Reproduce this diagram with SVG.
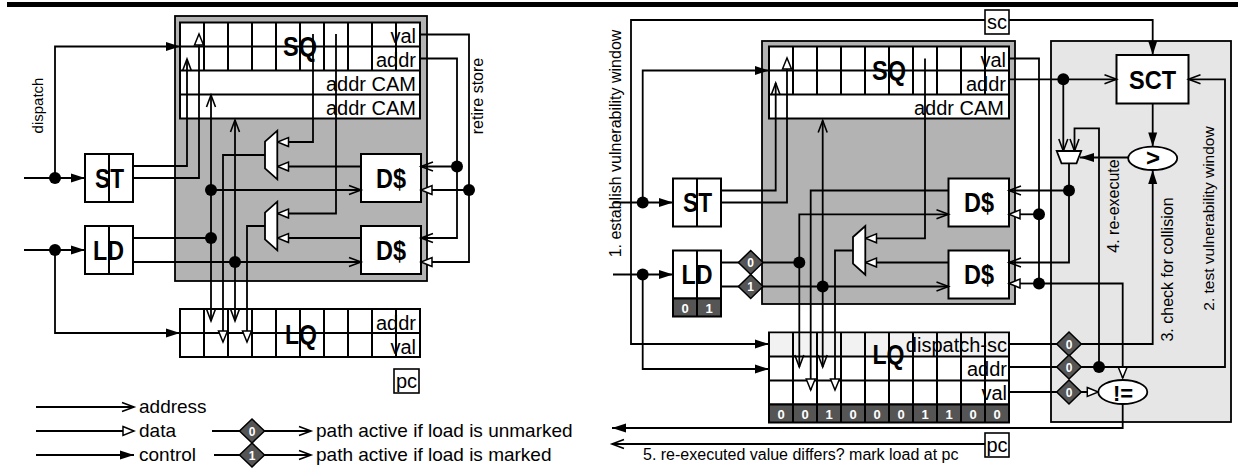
<svg xmlns="http://www.w3.org/2000/svg" width="1244" height="469" viewBox="0 0 1244 469">
<defs>
<style>
.w{fill:none;stroke:#000;stroke-width:1.8}
.a{marker-end:url(#ma)}
.d{marker-end:url(#md)}
.c{marker-end:url(#mc)}
.box{fill:#fff;stroke:#000;stroke-width:2}
.ln{fill:none;stroke:#000;stroke-width:2}
.g{fill:#b3b3b3;stroke:#000;stroke-width:1.8}
.lg{fill:#e6e6e6;stroke:#000;stroke-width:1.8}
.dot{fill:#000}
.dm{fill:#555;stroke:#000;stroke-width:1.5}
.dk{fill:#555;stroke:#000;stroke-width:2}
text{font-family:"Liberation Sans",Arial,Helvetica,sans-serif;fill:#000}
.t{font-size:20px}
.r{font-size:20px;text-anchor:end}
.m{font-size:20px;text-anchor:middle}
.v{font-size:16px;text-anchor:middle}
.b{font-size:27px;font-weight:bold;text-anchor:middle}
.bt{font-size:12px;font-weight:bold;fill:#fff;text-anchor:middle}
.bb{font-size:13px;font-weight:bold;fill:#fff;text-anchor:middle}
</style>
<marker id="ma" markerUnits="userSpaceOnUse" viewBox="-14 -7 16 14" refX="0" refY="0" markerWidth="16" markerHeight="14" orient="auto" overflow="visible"><path d="M-12,-4.5 L0,0 L-12,4.5" fill="none" stroke="#000" stroke-width="1.6"/></marker>
<marker id="md" markerUnits="userSpaceOnUse" viewBox="-14 -7 16 14" refX="0" refY="0" markerWidth="16" markerHeight="14" orient="auto" overflow="visible"><path d="M-11,-4.5 L0,0 L-11,4.5 Z" fill="#fff" stroke="#000" stroke-width="1.5"/></marker>
<marker id="mc" markerUnits="userSpaceOnUse" viewBox="-16 -7 18 14" refX="0" refY="0" markerWidth="18" markerHeight="14" orient="auto" overflow="visible"><path d="M-14,-4.5 L0,0 L-14,4.5 Z" fill="#000"/></marker>
</defs>

<rect x="7" y="2" width="1231" height="5" fill="#000"/>

<!-- ================= LEFT ================= -->
<g id="sq-unit-left"><rect x="175" y="16" width="252" height="265" class="g"/></g>

<g id="sq-left">
<rect x="180" y="22.5" width="240" height="96" class="box"/>
<path class="ln" d="M180 46.5H420M180 70.5H420M180 94.5H420"/>
<path class="ln" d="M204 22.5V70.5M228 22.5V70.5M252 22.5V70.5M276 22.5V70.5M300 22.5V70.5M324 22.5V70.5M348 22.5V70.5M372 22.5V70.5M396 22.5V70.5"/>
<text class="r" x="416" y="43">val</text>
<text class="r" x="416" y="67">addr</text>
<text class="r" x="416" y="91">addr CAM</text>
<text class="r" x="416" y="115">addr CAM</text>
<text class="b" x="300" y="55.5" textLength="34" lengthAdjust="spacingAndGlyphs">SQ</text>
</g>

<g id="st-left"><rect x="85" y="154" width="48" height="48" class="box"/><path class="ln" d="M109 154V202"/><text class="b" x="109.5" y="188" textLength="29" lengthAdjust="spacingAndGlyphs">ST</text></g>
<g id="ld-left"><rect x="85" y="226" width="48" height="48" class="box"/><path class="ln" d="M109 226V274"/><text class="b" x="108.5" y="260" textLength="31" lengthAdjust="spacingAndGlyphs">LD</text></g>
<g id="dcache1-left"><rect x="361" y="154" width="60" height="48" class="box"/><text class="b" x="391" y="188" textLength="30" lengthAdjust="spacingAndGlyphs">D$</text></g>
<g id="dcache2-left"><rect x="361" y="226" width="60" height="48" class="box"/><text class="b" x="391" y="260" textLength="30" lengthAdjust="spacingAndGlyphs">D$</text></g>

<g id="lq-left">
<rect x="180" y="309" width="240" height="48" class="box"/>
<path class="ln" d="M180 333H420"/>
<path class="ln" d="M204 309V357M228 309V357M252 309V357M276 309V357M300 309V357M324 309V357M348 309V357M372 309V357M396 309V357"/>
<text class="r" x="416" y="330">addr</text>
<text class="r" x="416" y="354">val</text>
<text class="b" x="301" y="343.5" textLength="32" lengthAdjust="spacingAndGlyphs">LQ</text>
</g>
<g id="pc-left"><rect x="394" y="369" width="25" height="24" class="box" style="stroke-width:1.6"/><text class="m" x="406.5" y="387.5">pc</text></g>

<!-- ================= RIGHT ================= -->
<g id="sct-region"><rect x="1051" y="41" width="180" height="381" class="lg"/></g>
<g id="sq-unit-right"><rect x="762" y="41" width="253" height="263" class="g"/></g>

<g id="sq-right">
<rect x="769" y="46.5" width="240" height="72" class="box"/>
<path class="ln" d="M769 70.5H1009M769 94.5H1009"/>
<path class="ln" d="M793 46.5V94.5M817 46.5V94.5M841 46.5V94.5M865 46.5V94.5M889 46.5V94.5M913 46.5V94.5M937 46.5V94.5M961 46.5V94.5M985 46.5V94.5"/>
<text class="r" x="1006" y="67">val</text>
<text class="r" x="1006" y="91">addr</text>
<text class="r" x="1004" y="115">addr CAM</text>
<text class="b" x="889" y="79.5" textLength="34" lengthAdjust="spacingAndGlyphs">SQ</text>
</g>

<g id="sc-box"><rect x="985" y="10" width="24" height="24" class="box" style="stroke-width:1.6"/><text class="m" x="997" y="28.5">sc</text></g>
<g id="st-right"><rect x="673" y="178.5" width="48" height="48" class="box"/><path class="ln" d="M697 178.5V226.5"/><text class="b" x="697.5" y="212" textLength="29" lengthAdjust="spacingAndGlyphs">ST</text></g>
<g id="ld-right"><rect x="673" y="250.5" width="48" height="48" class="box"/><rect x="673" y="298.5" width="48" height="18" class="dk"/><path class="ln" d="M697 250.5V316.5"/><text class="b" x="697" y="284" textLength="31" lengthAdjust="spacingAndGlyphs">LD</text><text class="bb" x="685" y="312.5">0</text><text class="bb" x="709" y="312.5">1</text></g>
<g id="dcache1-right"><rect x="948.5" y="178.5" width="60.5" height="48" class="box"/><text class="b" x="979" y="212" textLength="30" lengthAdjust="spacingAndGlyphs">D$</text></g>
<g id="dcache2-right"><rect x="948.5" y="250.5" width="60.5" height="48" class="box"/><text class="b" x="979" y="284" textLength="30" lengthAdjust="spacingAndGlyphs">D$</text></g>
<g id="sct"><rect x="1116.5" y="55" width="72" height="48.5" class="box"/><text class="b" x="1152.5" y="88.5" style="font-size:25px" textLength="47" lengthAdjust="spacingAndGlyphs">SCT</text></g>

<g id="lq-right">
<rect x="769" y="332.5" width="240" height="72" class="box"/>
<rect x="770" y="333.5" width="238" height="23" fill="#f2f2f2"/>
<rect x="769" y="404.5" width="240" height="18" class="dk"/>
<path class="ln" d="M769 356.5H1009M769 380.5H1009"/>
<path class="ln" d="M793 332.5V422.5M817 332.5V422.5M841 332.5V422.5M865 332.5V422.5M889 332.5V422.5M913 332.5V422.5M937 332.5V422.5M961 332.5V422.5M985 332.5V422.5"/>
<text class="r" x="1007" y="351.5">dispatch-sc</text>
<text class="r" x="1007" y="375.5">addr</text>
<text class="r" x="1007" y="399.5">val</text>
<text class="b" x="888.5" y="363.5" textLength="32" lengthAdjust="spacingAndGlyphs">LQ</text>
<text class="bb" x="781" y="418.5">0</text><text class="bb" x="805" y="418.5">0</text><text class="bb" x="829" y="418.5">1</text><text class="bb" x="853" y="418.5">0</text><text class="bb" x="877" y="418.5">0</text><text class="bb" x="901" y="418.5">0</text><text class="bb" x="925" y="418.5">1</text><text class="bb" x="949" y="418.5">1</text><text class="bb" x="973" y="418.5">0</text><text class="bb" x="997" y="418.5">0</text>
</g>
<g id="pc-right"><rect x="985" y="433" width="24" height="24" class="box" style="stroke-width:1.6"/><text class="m" x="997" y="451.5">pc</text></g>

<!-- ================= CONNECTORS ================= -->
<g id="connectors">
<!-- left -->
<path class="w c" d="M24 178H85"/>
<path class="w c" d="M55 178V46.5H180"/>
<path class="w c" d="M24 250H85"/>
<path class="w c" d="M55 250V333H180"/>
<path class="w a" d="M133 166H187V59"/>
<path class="w d" d="M133 178H199V34"/>
<path class="w" d="M133 238H211"/>
<path class="w a" d="M211 238V95"/>
<path class="w a" d="M211 238V321"/>
<path class="w a" d="M211 190H361"/>
<path class="w a" d="M133 262H361"/>
<path class="w a" d="M235 262V120"/>
<path class="w a" d="M235 262V321"/>
<path class="w d" d="M265 155H223V342"/>
<path class="w d" d="M265 226H247V342"/>
<path class="w d" d="M313 34V142H277.5"/>
<path class="w d" d="M336 34V213.5H277.5"/>
<path class="w d" d="M361 166.5H277.5"/>
<path class="w d" d="M361 238H277.5"/>
<path class="w a" d="M421 58.5H457V238H421"/>
<path class="w a" d="M457 166.5H421"/>
<path class="w d" d="M421 34.5H469V262H421"/>
<path class="w d" d="M469 190H421"/>
<circle class="dot" cx="55" cy="178" r="6"/>
<circle class="dot" cx="55" cy="250" r="6"/>
<circle class="dot" cx="211" cy="190" r="6"/>
<circle class="dot" cx="211" cy="238" r="6"/>
<circle class="dot" cx="235" cy="262" r="6"/>
<circle class="dot" cx="457" cy="166.5" r="6"/>
<circle class="dot" cx="469" cy="190" r="6"/>
<!-- legend -->
<path class="w a" d="M36 407H134"/>
<path class="w d" d="M36 431H134"/>
<path class="w c" d="M36 455H134"/>
<path class="w a" d="M212 431H311"/>
<path class="w a" d="M214 455H311"/>
<!-- right -->
<path class="w c" d="M985 20H631V344H769"/>
<path class="w c" d="M1009 20H1152.7V55"/>
<path class="w c" d="M613 202.5H673"/>
<path class="w c" d="M642.7 202.5V70.5H769"/>
<path class="w c" d="M613 274.5H673"/>
<path class="w c" d="M642.7 274.5V369H769"/>
<path class="w a" d="M721 190.5H775.7V83"/>
<path class="w d" d="M721 202.5H787V58"/>
<path class="w" d="M721 262.5H799.3"/>
<path class="w a" d="M721 286.5H948.5"/>
<path class="w a" d="M799.3 262.5V214.3H948.5"/>
<path class="w a" d="M799.3 262.5V367"/>
<path class="w a" d="M822.7 286.5V120.5"/>
<path class="w a" d="M822.7 286.5V367"/>
<path class="w d" d="M948.5 190.5H810.7V390"/>
<path class="w d" d="M853 250.5H835V390"/>
<path class="w d" d="M925 58.5V238.3H865.5"/>
<path class="w d" d="M948.5 262.5H865.5"/>
<path class="w d" d="M1009 58.5H1039V283.5H1122.7V378"/>
<path class="w d" d="M1039 214.3H1009"/>
<path class="w d" d="M1039 283.5H1009"/>
<path class="w a" d="M1009 79.3H1116.5"/>
<path class="w a" d="M1063.3 79.3V151"/>
<path class="w a" d="M1069 163.3V262.5H1009"/>
<path class="w a" d="M1069 190.5H1009"/>
<path class="w c" d="M1128.2 157.5H1080"/>
<path class="w c" d="M1152.7 103.5V146.6"/>
<path class="w a" d="M1099 367V128.3H1074.5V151"/>
<path class="w c" d="M1009 344H1152.7V170"/>
<path class="w a" d="M1009 367H1225V79.3H1188.5"/>
<path class="w d" d="M1009 392H1098.3"/>
<path class="w c" d="M1122.7 404V428H612"/>
<path class="w a" d="M985 444H612"/>
<circle class="dot" cx="642.7" cy="202.5" r="6"/>
<circle class="dot" cx="642.7" cy="274.5" r="6"/>
<circle class="dot" cx="799.3" cy="262.5" r="6"/>
<circle class="dot" cx="822.7" cy="286.5" r="6"/>
<circle class="dot" cx="1039" cy="214.3" r="6"/>
<circle class="dot" cx="1039" cy="283.5" r="6"/>
<circle class="dot" cx="1063.3" cy="79.3" r="6"/>
<circle class="dot" cx="1069" cy="190.5" r="6"/>
<circle class="dot" cx="1099" cy="367" r="6"/>
</g>

<!-- muxes, comparators, marks -->
<g id="mux1-left"><polygon points="265,141.7 277.3,130.7 277.3,179.3 265,168.3" fill="#fff" stroke="#000" stroke-width="1.8"/></g>
<g id="mux2-left"><polygon points="265,212.7 277.3,201.7 277.3,250.3 265,239.3" fill="#fff" stroke="#000" stroke-width="1.8"/></g>
<g id="mux-right"><polygon points="853,237 865.3,226 865.3,274.7 853,263.7" fill="#fff" stroke="#000" stroke-width="1.8"/></g>
<g id="mux-sct"><polygon points="1056.7,151 1081.2,151 1076.5,163.3 1061.5,163.3" fill="#fff" stroke="#000" stroke-width="1.8"/></g>
<g id="cmp-gt"><ellipse cx="1152.7" cy="158.3" rx="24.5" ry="11.7" fill="#fff" stroke="#000" stroke-width="1.8"/><text x="1153" y="166" style="font-size:24px;font-weight:bold;text-anchor:middle">&gt;</text></g>
<g id="cmp-ne"><ellipse cx="1122.8" cy="392" rx="24.5" ry="12" fill="#fff" stroke="#000" stroke-width="1.8"/><text x="1123" y="400.5" style="font-size:22px;font-weight:bold;text-anchor:middle">!=</text></g>

<g id="mark-ld0"><polygon class="dm" points="750.7,250.5 763,262.5 750.7,274.5 738.4,262.5"/><text class="bt" x="750.7" y="267">0</text></g>
<g id="mark-ld1"><polygon class="dm" points="750.7,274.5 763,286.5 750.7,298.5 738.4,286.5"/><text class="bt" x="750.7" y="291">1</text></g>
<g id="mark-dsc"><polygon class="dm" points="1069,332 1081.3,344 1069,356 1056.7,344"/><text class="bt" x="1069" y="348.5">0</text></g>
<g id="mark-addr"><polygon class="dm" points="1069,355 1081.3,367 1069,379 1056.7,367"/><text class="bt" x="1069" y="371.5">0</text></g>
<g id="mark-val"><polygon class="dm" points="1069,380 1081.3,392 1069,404 1056.7,392"/><text class="bt" x="1069" y="396.5">0</text></g>
<g id="mark-legend0"><polygon class="dm" points="252,419 264.5,431 252,443 239.5,431"/><text class="bt" x="252" y="435.5">0</text></g>
<g id="mark-legend1"><polygon class="dm" points="252,443 264.5,455 252,467 239.5,455"/><text class="bt" x="252" y="459.5">1</text></g>

<!-- labels -->
<g id="labels">
<text class="v" style="font-size:15px" transform="translate(42.5,105.5) rotate(-90)">dispatch</text>
<text class="v" transform="translate(483,96) rotate(-90)">retire store</text>
<text class="v" transform="translate(620.5,143.5) rotate(-90)">1. establish vulnerability window</text>
<text class="v" transform="translate(1118.5,206) rotate(-90)">4. re-execute</text>
<text class="v" transform="translate(1173,269.5) rotate(-90)">3. check for collision</text>
<text class="v" style="font-size:15.5px" transform="translate(1214,218.5) rotate(-90)">2. test vulnerability window</text>
<text style="font-size:16px" x="643" y="460">5. re-executed value differs? mark load at pc</text>
<text style="font-size:19px" x="139" y="412.5">address</text>
<text style="font-size:19px" x="139" y="436.5">data</text>
<text style="font-size:19px" x="139" y="461">control</text>
<text style="font-size:19px" x="316" y="436.5">path active if load is unmarked</text>
<text style="font-size:19px" x="316" y="461">path active if load is marked</text>
</g>
</svg>
